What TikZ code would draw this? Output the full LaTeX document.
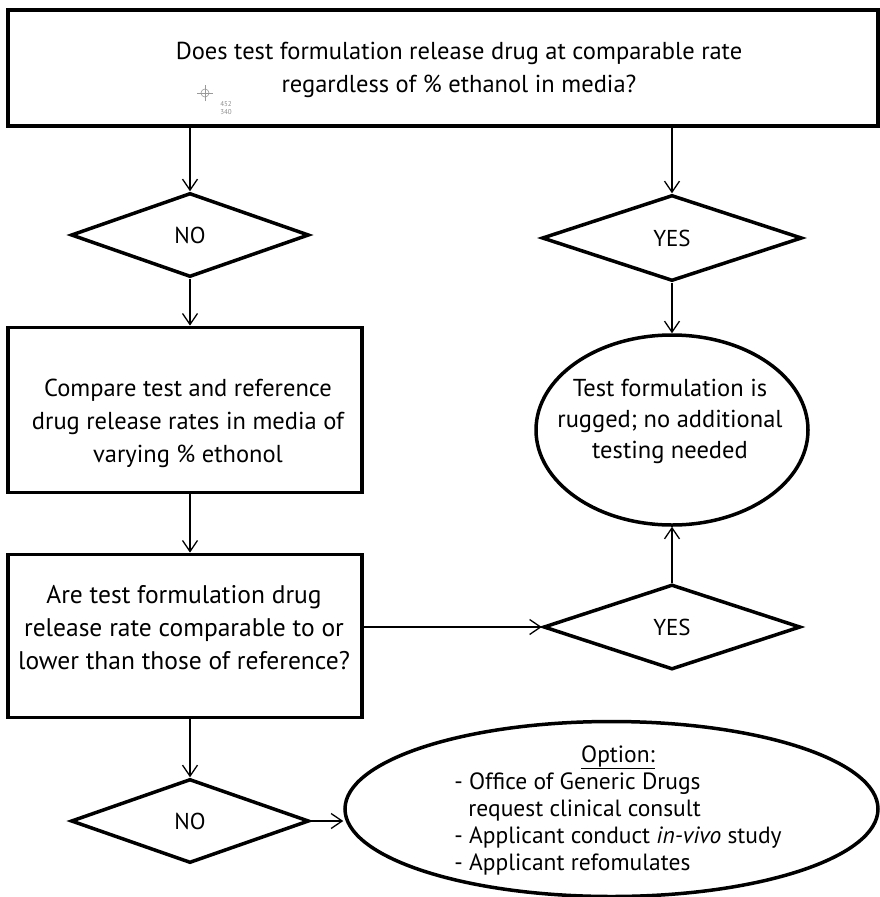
\documentclass[tikz,border=0pt]{standalone}
\usepackage{fontspec}
\setmainfont{PT Sans}
\usetikzlibrary{shapes.geometric,arrows.meta}
\begin{document}
\begin{tikzpicture}[x=1pt,y=-1pt,
 box/.style={draw,line width=3.8pt,rectangle,inner sep=0pt},
 dia/.style={draw,line width=3.5pt,diamond,inner sep=0pt,minimum width=238pt,minimum height=84pt,font=\fontsize{23}{30}\selectfont},
 ell/.style={draw,line width=3.5pt,ellipse,inner sep=0pt},
 txt/.style={align=center,inner sep=0pt,font=\fontsize{24.5}{33}\selectfont},
 conn/.style={line width=1.3pt,-{Straight Barb[length=11pt,width=15pt]}}]
\path[use as bounding box] (0,0) rectangle (880,897);
% shapes
\node[box,minimum width=870pt,minimum height=116pt] (top) at (443,68) {};
\node[dia] (no1) at (190,235) {NO};
\node[dia,minimum width=260pt,minimum height=86pt] (yes1) at (672,238) {YES};
\node[box,minimum width=354pt,minimum height=165pt] (box2) at (185,410) {};
\node[box,minimum width=354pt,minimum height=163pt] (box3) at (185,636) {};
\node[dia] (no2) at (190,821) {NO};
\node[dia,minimum width=257pt,minimum height=85pt] (yes2) at (672,627) {YES};
\node[ell,minimum width=272pt,minimum height=190pt] (ell1) at (672,430) {};
\node[ell,minimum width=533pt,minimum height=175pt] (opt) at (611.5,809) {};
% texts
\node[txt] (t1) at (459,70) {Does test formulation release drug at comparable rate\\regardless of \% ethanol in media?};
\node[txt] (t2) at (188,423) {Compare test and reference\\drug release rates in media of\\varying \% ethonol};
\node[txt,font=\fontsize{25.5}{33}\selectfont] (t3) at (184,628) {Are test formulation drug\\release rate comparable to or\\lower than those of reference?};
\node[txt,font=\fontsize{24.5}{31}\selectfont] (t4) at (670,421) {Test formulation is\\rugged; no additional\\testing needed};
\node[inner sep=0pt,font=\fontsize{23.5}{27}\selectfont] (t5) at (618,811) {\begin{tabular}{@{}l@{}}\multicolumn{1}{c}{\underline{Option:}}\\- Office of Generic Drugs\\\hspace{0.6em}request clinical consult\\- Applicant conduct \textit{in-vivo} study\\- Applicant refomulates\end{tabular}};
% crosshair artifact
\coordinate (ch) at (205,93);
\draw[gray!80,line width=0.8pt] ([xshift=-8pt]ch) -- ([xshift=8pt]ch) ([yshift=-8pt]ch) -- ([yshift=8pt]ch);
\draw[gray!80,line width=0.6pt] (ch) circle (4pt);
\node[gray!90,inner sep=0pt,font=\fontsize{7}{8}\selectfont,align=left] (chn) at (226,108) {452\\340};
% connectors
\draw[conn] (top.south -| no1) -- (no1.north);
\draw[conn] (top.south -| yes1) -- (yes1.north);
\draw[conn] (no1.south) -- (no1.south |- box2.north);
\draw[conn] (yes1.south) -- (ell1.north);
\draw[conn] (box2.south -| no1) -- (no1 |- box3.north);
\draw[conn] (box3.south -| no1) -- (no2.north);
\draw[conn] (box3.east |- yes2) -- (yes2.west);
\draw[conn] (yes2.north) -- (ell1.south);
\draw[conn] (no2.east) -- (opt.west |- no2.east);
\end{tikzpicture}
\end{document}
